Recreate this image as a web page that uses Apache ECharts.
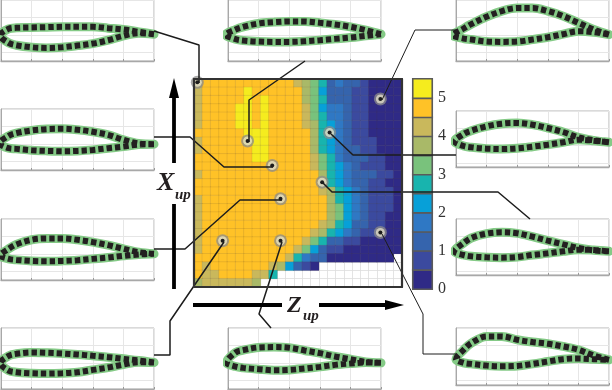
<!DOCTYPE html>
<html><head><meta charset="utf-8">
<style>html,body{margin:0;padding:0;background:#fff}#c{width:612px;height:390px}</style>
<script src="https://cdn.jsdelivr.net/npm/echarts@6/dist/echarts.min.js"></script>
</head><body><div id="c"></div>
<script>
const colorSteps=['#2f2a86','#3b4a9f','#3564ad','#2f78c4','#07a0d8','#18b4ae','#79c27c','#a9b968','#c9b85c','#ffc227','#f5ec1e'];
const barTicks=[0,1,2,3,4,5];
const heatRows=[
[8,9,9,9,9, 9,9,9,9,9, 9,9,8,7,6, 5,2,3,2,2, 1,0,0,0,0],
[8,9,9,9,9, 9,10,9,9,9, 9,9,9,7,6, 4,2,2,2,1, 1,0,0,0,0],
[8,9,9,9,9, 9,10,9,10,9, 9,9,9,7,6, 5,2,2,2,1, 1,0,0,0,0],
[8,9,9,9,9, 10,10,9,10,9, 9,9,9,8,6, 4,3,3,2,1, 1,0,0,0,0],
[8,9,9,9,9, 10,10,9,10,9, 9,9,9,8,6, 5,3,3,2,1, 1,0,0,0,0],
[8,9,9,9,9, 10,10,9,10,9, 9,9,9,8,7, 5,4,3,2,1, 1,0,0,0,0],
[9,9,9,9,9, 9,10,10,10,9, 9,9,9,9,7, 5,4,3,2,1, 1,0,0,0,0],
[8,9,9,9,9, 9,10,10,10,9, 9,9,9,9,7, 5,4,3,2,1, 1,1,0,0,0],
[8,9,9,9,9, 9,9,10,10,9, 9,9,9,9,7, 5,4,3,2,2, 1,1,0,0,0],
[9,9,9,9,9, 9,9,10,10,9, 9,9,9,9,8, 6,5,3,2,2, 2,1,1,0,0],
[9,9,9,9,9, 9,9,9,9,9, 9,9,9,9,8, 6,5,4,3,2, 1,1,1,0,0],
[8,9,9,9,9, 9,9,9,9,9, 9,9,9,9,9, 7,5,4,3,2, 2,2,1,1,0],
[9,9,9,9,9, 9,9,9,9,9, 9,9,9,9,9, 7,5,4,3,2, 2,1,1,0,0],
[9,9,9,9,9, 9,9,9,9,9, 9,9,9,9,9, 8,7,5,4,3, 2,1,1,1,0],
[8,9,9,9,9, 9,9,9,9,9, 9,9,9,9,9, 9,7,5,4,3, 2,1,1,1,0],
[8,9,9,9,9, 9,9,9,9,9, 9,9,9,9,9, 9,7,6,4,3, 2,1,1,1,0],
[8,9,9,9,9, 9,9,9,9,9, 9,9,9,9,9, 9,7,6,4,3, 2,1,1,0,0],
[8,9,9,9,9, 9,9,9,9,9, 9,9,9,9,9, 8,7,5,4,2, 2,1,1,0,0],
[8,9,9,9,9, 9,9,9,9,9, 9,9,9,9,8, 7,5,4,3,2, 1,1,0,0,0],
[8,9,9,9,9, 9,9,9,9,9, 9,9,9,8,6, 5,2,2,1,1, 0,0,0,0,0],
[8,9,9,9,9, 9,9,9,9,9, 9,9,8,6,4, 2,1,1,0,0, 0,0,0,0,0],
[9,9,9,9,9, 9,9,9,9,9, 9,8,5,3,2, 2,0,0,0,0, 0,0,0,0,null],
[9,8,9,9,9, 9,9,9,9,8, 7,4,2,1,0, null,null,null,null,null, null,null,null,null,null],
[9,8,8,9,9, 9,9,8,8,5, null,null,null,null,null, null,null,null,null,null, null,null,null,null,null],
[7,8,8,8,8, 8,8,7,null,null, null,null,null,null,null, null,null,null,null,null, null,null,null,null,null]
];
const markerPoints=[[0.4,0.4],[6.44,7.44],[9.4,10.4],[10.4,14.4],[15.4,12.4],[3.44,19.44],[10.4,19.44],[16.3,6.44],[22.4,2.4],[22.4,18.44]];
const stations=[5,10,20,30,40,50,60,70,80,90,100];
const noseA=[-0.5,106],upperA=[86,83,82,81,80,80,80,84,88,95,102],lowerA=[128,135,141,143,141,136,130,120,107,99,102];
const noseB=[-1.5,104],upperB=[88,80,70,66,64,64,68,73,80,90,102],lowerB=[117,121,124,125,125,123,120,116,112,107,102];
const noseC=[-2,105],upperC=[85,72,50,33,24,24,33,48,68,88,103],lowerC=[115,118,124,125,124,118,111,102,93,96,103];
const noseD=[-1,102],upperD=[80,72,64,60,59,62,68,77,92,103,105],lowerD=[117,119,123,125,126,125,122,117,112,106,105];
const noseE=[-0.5,109],upperE=[89,76,62,58,58,62,69,78,89,99,104],lowerE=[119,122,125,126,125,123,119,115,110,106,104];
const noseF=[-0.5,105],upperF=[83,77,73,74,76,79,83,87,92,97,103],lowerF=[127,132,135,136,135,132,125,118,109,102,103];
const noseG=[-1,103],upperG=[73,66,58,57,59,67,75,85,93,101,104],lowerG=[115,119,123,126,125,121,116,110,106,103,104];
const noseH=[0,93],upperH=[65,45,25,25,35,42,47,55,65,82,95],lowerH=[104,107,112,114,113,107,100,93,91,93,95];
const noseI=[-1,91],upperI=[69,59,46,38,36,41,51,63,79,88,94],lowerI=[105,109,113,114,112,107,101,94,86,89,94];
const noseJ=[-1,97],upperJ=[72,57,44,40,43,53,65,76,87,94,97],lowerJ=[108,112,115,116,114,108,103,97,92,93,97];
const leaderA=[[154,31],[199,45],[199,83]];
const leaderB=[[249,142],[249,100],[305,61]];
const leaderC=[[382,100],[415,30],[456,30]];
const leaderD=[[273,167],[224,167],[190,137],[154,137]];
const leaderE=[[282,200],[240,200],[185,249],[154,249]];
const leaderF=[[224,242],[170,321],[170,355],[154,355]];
const leaderG=[[282,242],[259,314],[271,328]];
const leaderH=[[382,234],[423,314],[423,354],[456,354]];
const leaderI=[[331,134],[353,155],[456,155]];
const leaderJ=[[323,183],[332,192],[498,192],[530,219]];

const panels=[
 {l:1,t:0,w:153,h:61,m:182,n:noseA,u:upperA,d:lowerA},
 {l:228,t:0,w:153,h:61,m:182,n:noseB,u:upperB,d:lowerB},
 {l:456,t:0,w:153,h:61,m:182,n:noseC,u:upperC,d:lowerC},
 {l:1,t:109,w:153,h:61,m:182,n:noseD,u:upperD,d:lowerD},
 {l:1,t:219,w:153,h:61,m:182,n:noseE,u:upperE,d:lowerE},
 {l:1,t:328,w:153,h:61,m:182,n:noseF,u:upperF,d:lowerF},
 {l:228,t:328,w:153,h:61,m:182,n:noseG,u:upperG,d:lowerG},
 {l:456,t:328,w:153,h:57,m:170,n:noseH,u:upperH,d:lowerH},
 {l:456,t:111,w:153,h:56,m:168,n:noseI,u:upperI,d:lowerI},
 {l:456,t:219,w:153,h:56,m:168,n:noseJ,u:upperJ,d:lowerJ}
];
const heatData=[];
heatRows.forEach((r,j)=>r.forEach((v,i)=>{if(v!==null)heatData.push({value:[i,j,v],itemStyle:{color:colorSteps[v]}})}));
const barData=colorSteps.map((c,i)=>({value:[0,i,i],itemStyle:{color:c}}));
const idx25=[...Array(25).keys()];
const hide={show:false};
const grid=[
 {left:194,top:79,width:208,height:208,show:true,backgroundColor:'#fff',borderWidth:0},
 {left:413,top:79,width:19,height:210},
 {left:0,top:0,width:612,height:390}
];
const frameLine={show:true,onZero:false,lineStyle:{color:'#333',width:2.2}};
const frameX=(pos)=>({gridIndex:0,type:'value',min:0,max:25,position:pos,z:6,axisLabel:hide,axisTick:hide,splitLine:hide,axisLine:frameLine});
const frameY=(pos)=>({gridIndex:0,type:'value',min:0,max:25,inverse:true,position:pos,z:6,axisLabel:hide,axisTick:hide,splitLine:hide,axisLine:frameLine});
const xAxis=[
 {gridIndex:0,type:'category',data:idx25,z:0,boundaryGap:true,axisLabel:hide,axisTick:hide,axisLine:hide,splitLine:{show:true,interval:0,lineStyle:{color:'#ddd',width:.8}}},
 frameX('top'),
 {gridIndex:1,type:'category',data:['c'],axisLabel:hide,axisTick:hide,axisLine:hide},
 {gridIndex:2,type:'value',min:0,max:612,show:false},
 frameX('bottom')
];
const yAxis=[
 {gridIndex:0,type:'category',inverse:true,data:idx25,z:0,axisLabel:hide,axisTick:hide,axisLine:hide,splitLine:{show:true,interval:0,lineStyle:{color:'#ddd',width:.8}}},
 frameY('right'),
 {gridIndex:1,type:'category',data:colorSteps.map((c,i)=>i),axisLabel:hide,axisTick:hide,axisLine:hide},
 {gridIndex:1,type:'value',min:barTicks[0],max:5.5,interval:1,position:'right',axisLine:hide,axisTick:hide,splitLine:hide,
  axisLabel:{show:true,margin:6,showMaxLabel:false,color:'#333',fontFamily:'Liberation Serif',fontSize:16,formatter:v=>barTicks.includes(v)?String(v):''}},
 {gridIndex:2,type:'value',min:0,max:390,inverse:true,show:false},
 frameY('left')
];
const series=[
 {type:'heatmap',xAxisIndex:0,yAxisIndex:0,data:heatData,z:2,silent:true,itemStyle:{borderColor:'rgba(90,80,60,.2)',borderWidth:.6}},
 {type:'heatmap',xAxisIndex:2,yAxisIndex:2,data:barData,z:2,silent:true,itemStyle:{borderColor:'#5a5a5a',borderWidth:1.6}},
 {type:'scatter',xAxisIndex:1,yAxisIndex:1,data:markerPoints,symbol:'circle',symbolSize:13,z:3,silent:true,itemStyle:{color:'rgba(140,140,140,.75)',opacity:1}},
 {type:'scatter',xAxisIndex:1,yAxisIndex:1,data:markerPoints,symbol:'circle',symbolSize:9,z:3,silent:true,itemStyle:{color:'rgba(255,250,215,.62)',opacity:1}}
];
[leaderA,leaderB,leaderC,leaderD,leaderE,leaderF,leaderG,leaderH,leaderI,leaderJ].forEach((p,i)=>{
 series.push({type:'line',xAxisIndex:3,yAxisIndex:4,data:p,symbol:'none',z:4,silent:true,clip:false,lineStyle:{color:'#1c1c1c',width:(i===2||i===7)?1:1.5}});
});
series.push({type:'scatter',xAxisIndex:1,yAxisIndex:1,data:markerPoints,symbol:'circle',symbolSize:4,z:5,silent:true,itemStyle:{color:'#1c1c1c',opacity:1}});
panels.forEach((p,k)=>{
 const g=grid.length;
 grid.push({left:p.l,top:p.t,width:p.w,height:p.h,show:true,borderColor:'#b5b5b5',borderWidth:1,backgroundColor:'#fff'});
 xAxis.push({gridIndex:g,type:'value',min:0,max:100,interval:20,position:'bottom',axisLabel:hide,
   axisLine:{show:true,onZero:false,lineStyle:{color:'#a8a8a8',width:1.4}},axisTick:{show:true,inside:true,length:2,lineStyle:{color:'#999'}},splitLine:{show:true,lineStyle:{color:'#e6e6e6',width:1}}});
 yAxis.push({gridIndex:g,type:'value',min:0,max:p.m,interval:52,inverse:true,position:'left',axisLabel:hide,
   axisLine:{show:true,onZero:false,lineStyle:{color:'#a8a8a8',width:1}},axisTick:hide,splitLine:{show:true,lineStyle:{color:'#e6e6e6',width:1}}});
 const outline=[];
 for(let i=stations.length-1;i>=0;i--)outline.push([stations[i],p.u[i]]);
 outline.push(p.n);
 for(let i=0;i<stations.length;i++)outline.push([stations[i],p.d[i]]);
 const xi=xAxis.length-1,yi=yAxis.length-1;
 series.push({type:'line',xAxisIndex:xi,yAxisIndex:yi,data:outline,symbol:'none',smooth:.35,clip:false,z:2,silent:true,lineStyle:{color:'#84ca86',width:9,cap:'round',join:'round'}});
 series.push({type:'line',xAxisIndex:xi,yAxisIndex:yi,data:outline,symbol:'none',smooth:.35,clip:false,z:3,silent:true,lineStyle:{color:'#231f20',width:6,type:[5.4,3],cap:'butt'}});
});
const arrow=(pts)=>({type:'polygon',shape:{points:pts},style:{fill:'#000'},z:20});
const bar=(x1,y1,x2,y2)=>({type:'line',shape:{x1,y1,x2,y2},style:{stroke:'#000',lineWidth:3.8},z:20});
const txt=(text,x,y,size)=>({type:'text',x,y,z:20,style:{text,fontFamily:'Liberation Serif',fontSize:size,fontWeight:'bold',fontStyle:'italic',fill:'#231f20'}});
const graphic=[
 bar(174,96,174,163),bar(174,204,174,289),arrow([[174,78],[169,98],[179,98]]),
 bar(193,305,282,305),bar(319,305,388,305),arrow([[404,305],[385,300],[385,310]]),
 txt('X',157,170,26),txt('up',175,188,15),
 txt('Z',287,294,24),txt('up',303,309,15)
];
const chart=echarts.init(document.getElementById('c'),null,{renderer:'canvas'});
chart.setOption({animation:false,backgroundColor:'#fff',grid,xAxis,yAxis,series,graphic});
</script></body></html>
